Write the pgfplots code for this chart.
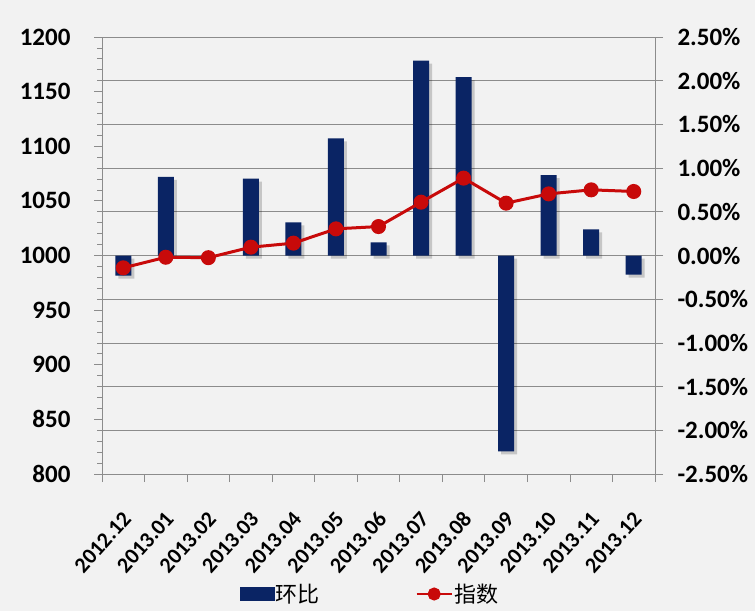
\documentclass[border=0pt]{standalone}
\usepackage{pgfplots}
\pgfplotsset{compat=1.18}
\usepackage{fontspec}
\setmainfont{Carlito}
\newfontfamily\cjk{Noto Sans CJK SC}
\definecolor{bg}{RGB}{242,242,242}
\definecolor{navy}{RGB}{10,36,100}
\definecolor{lred}{RGB}{200,10,10}
\definecolor{gridc}{RGB}{140,140,140}
\begin{document}
\begin{tikzpicture}[x=1pt,y=1pt]
\fill[bg] (0,0) rectangle (755,611);
\useasboundingbox (0,0) rectangle (755,611);
% right axis with bars
\begin{axis}[
  at={(102pt,137pt)}, anchor=south west,
  scale only axis, width=553pt, height=437pt,
  xmin=-0.5, xmax=12.5, ymin=-2.5, ymax=2.5,
  axis y line*=right, axis x line*=bottom,
  axis line style={-, draw=gridc, line width=0.8pt},
  tick align=outside,
  ytick={-2.5,-2,...,2.5},
  yticklabels={-2.50\%,-2.00\%,-1.50\%,-1.00\%,-0.50\%,0.00\%,0.50\%,1.00\%,1.50\%,2.00\%,2.50\%},
  ymajorgrids, grid style={draw=gridc, line width=0.8pt},
  major tick length=8pt, minor tick length=8pt,
  every tick/.style={draw=gridc, line width=0.8pt},
  xtick={0,...,12},
  xticklabels={2012.12,2013.01,2013.02,2013.03,2013.04,2013.05,2013.06,2013.07,2013.08,2013.09,2013.10,2013.11,2013.12},
  minor xtick={-0.5,0.5,...,12.5},
  xtick style={draw=none},
  minor x tick style={draw=gridc, line width=0.8pt},
  yticklabel style={font=\fontsize{25}{25}\selectfont\bfseries, anchor=west, xshift=11pt},
  xticklabel style={font=\fontsize{22}{22}\selectfont\bfseries, rotate=48, anchor=east, inner sep=0pt, xshift=-22pt, yshift=-25pt},
]
\addplot[ybar, fill=navy, draw=none, bar width=16pt,
  preaction={fill=black, opacity=0.18, transform canvas={xshift=3pt,yshift=-3pt}}]
coordinates {(0,-0.23) (1,0.90) (2,0) (3,0.88) (4,0.38) (5,1.34) (6,0.15) (7,2.23) (8,2.04) (9,-2.24) (10,0.92) (11,0.30) (12,-0.22)};
\end{axis}
% left axis with line
\begin{axis}[
  at={(102pt,137pt)}, anchor=south west,
  scale only axis, width=553pt, height=437pt,
  xmin=-0.5, xmax=12.5, ymin=800, ymax=1200,
  axis y line*=left, axis x line=none,
  axis line style={-, draw=gridc, line width=0.8pt},
  tick align=outside,
  ytick={800,850,...,1200}, minor y tick num=4,
  major tick length=8pt, minor tick length=5pt,
  every tick/.style={draw=gridc, line width=0.8pt},
  /pgf/number format/assume math mode=true,
  /pgf/number format/1000 sep={},
  yticklabel style={font=\fontsize{25}{25}\selectfont\bfseries, anchor=east, xshift=-20pt},
  legend columns=2,
  legend style={draw=none, fill=none, inner sep=0pt, at={(0.4846,-0.2746)}, anchor=center,
    nodes={inner sep=1.5pt},
    font=\cjk\fontsize{22}{22}\selectfont, /tikz/every even column/.append style={column sep=94pt}},
]
\addlegendimage{legend image code/.code={\fill[navy] (0pt,-6.5pt) rectangle (34pt,6.5pt);}}
\addplot[lred, line width=3pt, mark=*, mark size=6pt, mark options={fill=lred, draw=lred},
  legend image code/.code={\draw[lred,line width=2.5pt] (0pt,0pt) -- (35pt,0pt); \fill[lred] (17.5pt,0pt) circle (5pt);}]
coordinates {(0,988.7) (1,998.4) (2,998.0) (3,1007.6) (4,1011.3) (5,1024.4) (6,1026.5) (7,1048.8) (8,1070.8) (9,1047.9) (10,1056.4) (11,1060.1) (12,1058.6)};
\legend{环比,指数}
\end{axis}
\end{tikzpicture}
\end{document}
